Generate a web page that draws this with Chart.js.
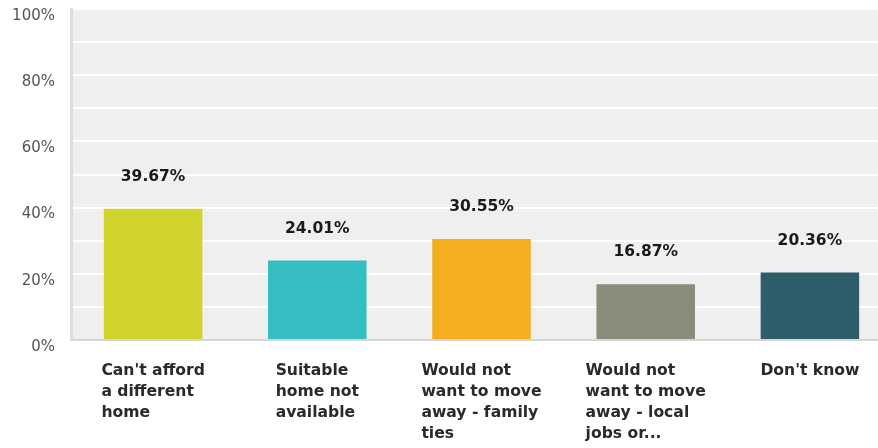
<!DOCTYPE html>
<html>
<head>
<meta charset="utf-8">
<script src="https://cdn.jsdelivr.net/npm/chart.js@4"></script>
<style>
    html, body { margin: 0; padding: 0; overflow: hidden; background: #fff; }
    #wrap { width: 878px; height: 448px; overflow: hidden; }
</style>
</head>
<body>
<div id="wrap"><canvas id="reasonsChart" width="892" height="448"></canvas></div>
<script>
// chart data
const categories = [
    ["Can't afford", 'a different', 'home'],
    ['Suitable', 'home not', 'available'],
    ['Would not', 'want to move', 'away - family', 'ties'],
    ['Would not', 'want to move', 'away - local', 'jobs or...'],
    ["Don't know"]
];
const percentValues = [39.67, 24.01, 30.55, 16.87, 20.36];
const barColors = ['#cfd32b', '#35bec1', '#f6ae21', '#8a8b79', '#2e5e6a'];
const yTicks = [0, 20, 40, 60, 80, 100];

const FONT = 'DejaVu Sans';

// grey plot background
const plotBackground = {
    id: 'plotBackground',
    beforeDraw(chart) {
        const a = chart.chartArea;
        const ctx = chart.ctx;
        ctx.save();
        ctx.fillStyle = '#efefef';
        ctx.fillRect(a.left, a.top, a.right - a.left, a.bottom - a.top);
        ctx.restore();
    }
};

// value labels above bars + left aligned category labels
const textLabels = {
    id: 'textLabels',
    afterDraw(chart) {
        const ctx = chart.ctx;
        const meta = chart.getDatasetMeta(0);
        const xScale = chart.scales.x;
        ctx.save();
        ctx.fillStyle = '#1a1a1a';
        ctx.font = 'bold 15.5px ' + FONT;
        ctx.textAlign = 'center';
        ctx.textBaseline = 'middle';
        meta.data.forEach((bar, i) => {
            ctx.fillText(percentValues[i].toFixed(2) + '%', bar.x, bar.y - 32);
        });

        ctx.fillStyle = '#2a2a2a';
        ctx.font = 'bold 15.6px ' + FONT;
        ctx.textAlign = 'left';
        categories.forEach((lines, i) => {
            const cx = xScale.getPixelForValue(i);
            let maxW = 0;
            lines.forEach(l => { maxW = Math.max(maxW, ctx.measureText(l).width); });
            const x0 = cx - maxW / 2;
            lines.forEach((l, j) => {
                ctx.fillText(l, x0, 371 + j * 21);
            });
        });
        ctx.restore();
    }
};

const ctx = document.getElementById('reasonsChart').getContext('2d');
new Chart(ctx, {
    type: 'bar',
    data: {
        labels: categories.map(c => c.join(' ')),
        datasets: [{
            data: percentValues,
            backgroundColor: barColors,
            borderColor: barColors,
            borderWidth: 0,
            barPercentage: 0.6,
            categoryPercentage: 1.0
        }]
    },
    options: {
        responsive: false,
        animation: false,
        devicePixelRatio: 1,
        layout: { padding: { top: 9, right: 0, left: 0, bottom: 0 } },
        plugins: {
            legend: { display: false },
            tooltip: { enabled: false }
        },
        scales: {
            x: {
                grid: { display: false, drawTicks: false },
                border: { display: true, color: '#d6d6d6', width: 2 },
                ticks: { display: false },
                afterFit: function (scale) { scale.height = 108; }
            },
            y: {
                min: 0,
                max: 100,
                grid: { color: '#ffffff', lineWidth: 2, drawTicks: false },
                border: { display: true, color: '#dcdcdc', width: 3 },
                ticks: {
                    stepSize: 10,
                    padding: 16,
                    labelOffset: 7,
                    color: '#555',
                    font: { family: FONT, size: 15 },
                    callback: function (value) {
                        return yTicks.includes(value) ? value + '%' : '';
                    }
                },
                afterFit: function (scale) {
                    scale.width = 71;
                    scale.paddingTop = 0;
                    scale.paddingBottom = 0;
                }
            }
        }
    },
    plugins: [plotBackground, textLabels]
});
</script>
</body>
</html>
